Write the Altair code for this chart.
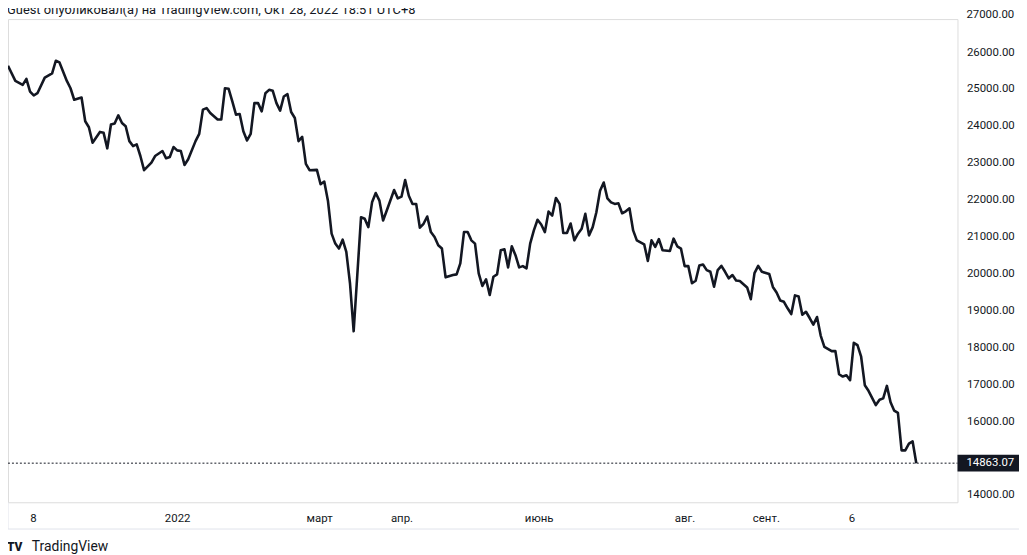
import altair as alt
import pandas as pd

# bar index (trading sessions from late Oct 2021) and closing values
bar_index = [0, 2, 4, 5, 6, 7, 8, 10, 12, 13, 14, 16, 17, 18, 20, 21, 22, 23, 25, 26,
             27, 28, 29, 30, 31, 32, 33, 34, 35, 36, 37, 39, 40, 42, 43, 44, 45, 46, 47, 48,
             49, 51, 52, 53, 54, 55, 57, 58, 59, 60, 61, 62, 63, 64, 65, 66, 67, 68, 69, 70,
             71, 72, 73, 74, 75, 76, 77, 78, 79, 80, 81, 82, 84, 85, 86, 87, 88, 89, 90, 91,
             92, 93, 94, 96, 97, 98, 99, 100, 101, 102, 103, 105, 106, 107, 108, 109, 110, 111, 112, 113,
             114, 115, 116, 117, 118, 119, 121, 122, 123, 124, 125, 126, 127, 128, 129, 130, 131, 132, 133, 134,
             135, 136, 137, 138, 139, 140, 141, 142, 143, 144, 145, 146, 147, 148, 149, 150, 151, 152, 153, 154,
             155, 156, 157, 158, 159, 160, 161, 162, 163, 164, 165, 166, 167, 168, 169, 170, 171, 173, 174, 175,
             176, 177, 178, 180, 181, 182, 183, 184, 185, 186, 187, 188, 189, 190, 191, 192, 193, 194, 195, 196,
             197, 198, 199, 201, 202, 203, 204, 205, 207, 208, 209, 210, 211, 212, 213, 214, 215, 216, 217, 218,
             219, 220, 221, 222, 224, 225, 226, 227, 228, 229, 230, 231, 232, 233, 234, 236, 237, 238, 239, 240,
             241, 242, 243, 244, 245, 246, 247]
close_value = [25631, 25220, 25113, 25274, 24932, 24825, 24887, 25309, 25424, 25766, 25720, 25220, 25021, 24709, 24771, 24126, 23965, 23543, 23838, 23812,
               23392, 24037, 24064, 24287, 24080, 23992, 23588, 23454, 23500, 23185, 22801, 23005, 23185, 23320, 23123, 23158, 23427, 23338, 23320, 22943,
               23097, 23588, 23785, 24441, 24484, 24349, 24172, 24172, 25021, 25005, 24664, 24306, 24322, 23857, 23607, 23785, 24618, 24618, 24395, 24887,
               24978, 24951, 24618, 24414, 24798, 24860, 24376, 24215, 23588, 23704, 22970, 22801, 22810, 22420, 22494, 21976, 21081, 20812, 20677, 20919,
               20586, 19737, 18436, 21527, 21484, 21258, 21930, 22183, 21976, 21438, 21707, 22263, 22037, 22083, 22532, 22110, 21887, 21887, 21242, 21349,
               21546, 21124, 20989, 20766, 20677, 19898, 19960, 19978, 20274, 21124, 21124, 20900, 20812, 20005, 19664, 19844, 19422, 19914, 19978, 20632,
               20659, 20167, 20739, 20497, 20167, 20202, 20140, 20812, 21169, 21457, 21331, 21124, 21680, 21572, 22048, 21887, 21097, 21097, 21357, 20900,
               21081, 21215, 21618, 21035, 21258, 21661, 22244, 22468, 22037, 21930, 21887, 21903, 21634, 21688, 21769, 21169, 20900, 20793, 20344, 20900,
               20720, 20935, 20632, 20613, 20946, 20739, 20677, 20202, 20202, 19737, 19806, 20220, 20247, 20094, 20048, 19645, 20094, 20210, 20048, 19871,
               19960, 19812, 19798, 19624, 19306, 20013, 20210, 20048, 19990, 19637, 19489, 19269, 19234, 19059, 18903, 19409, 19376, 18884, 18965, 18796,
               18616, 18823, 18320, 18016, 17898, 17898, 17272, 17210, 17245, 17110, 18124, 18059, 17747, 16976, 16823, 16438, 16581, 16619, 16957, 16511,
               16285, 16223, 15210, 15210, 15390, 15452, 14863.07]

last_price = [14863.07]
price_ticks = [14000, 16000, 17000, 18000, 19000, 20000, 21000, 22000, 23000, 24000, 25000, 26000]
top_price_tick = [27000]
time_tick_pos = [6.8, 46.0, 84.6, 107.0, 144.3, 184.0, 206.1, 229.4]
time_tick_labels = ["8", "2022", "март", "апр.", "июнь", "авг.", "сент.", "6"]
header_text = "Guest опубликовал(а) на TradingView.com, Окт 28, 2022 18:51 UTC+8"

FONT = "Roboto"
INK = "#131722"
BORDER = "#e0e3eb"
W, H = 957, 487

df = pd.DataFrame({"i": bar_index, "v": close_value})
one = pd.DataFrame({"p": last_price})
top_df = pd.DataFrame({"p": top_price_tick})

x_scale = alt.Scale(domain=[0, 258.2], nice=False, zero=False)
y_scale = alt.Scale(domain=[13804, 26895], nice=False, zero=False)

label_expr = "[" + ",".join("'%s'" % s for s in time_tick_labels) + "][indexof([" + \
    ",".join(str(p) for p in time_tick_pos) + "], datum.value)]"

line = alt.Chart(df).mark_line(color=INK, strokeWidth=2.6, strokeJoin="round", clip=True).encode(
    x=alt.X("i:Q", scale=x_scale, title=None,
            axis=alt.Axis(values=time_tick_pos, labelExpr=label_expr, ticks=False, tickSize=0,
                          domain=False, grid=False, labelPadding=16, labelBaseline="middle",
                          labelFont=FONT, labelFontSize=11.5, labelColor=INK,
                          labelFontWeight={"expr": "datum.label == '2022' ? 'bold' : 'normal'"},
                          labelOverlap=False, labelFlush=False)),
    y=alt.Y("v:Q", scale=y_scale, title=None,
            axis=alt.Axis(orient="right", values=price_ticks, format=".2f", ticks=False, tickSize=0,
                          domain=False, grid=False, labelPadding=9, labelAlign="left",
                          labelBaseline="middle", labelFont=FONT, labelFontSize=11.5,
                          labelColor=INK, labelOverlap=False, labelBound=False, labelFlush=False)),
)

top_label = alt.Chart(top_df).mark_text(align="left", baseline="middle", font=FONT, fontSize=11.5,
                                         color=INK).encode(
    y=alt.Y("p:Q", scale=y_scale), x=alt.value(W + 9), text=alt.Text("p:Q", format=".2f"))

dotted = alt.Chart(one).mark_rule(color=INK, strokeWidth=1, strokeDash=[2, 2]).encode(
    y=alt.Y("p:Q", scale=y_scale), x=alt.value(0), x2=alt.value(W))

price_box = alt.Chart(one).mark_rule(color=INK, strokeWidth=17, strokeCap="butt").encode(
    y=alt.Y("p:Q", scale=y_scale), x=alt.value(W), x2=alt.value(W + 62))

price_text = alt.Chart(one).mark_text(align="left", baseline="middle", font=FONT, fontSize=11.5,
                                      color="white").encode(
    y=alt.Y("p:Q", scale=y_scale), x=alt.value(W + 9), text=alt.Text("p:Q", format=".2f"))

base = alt.Chart(pd.DataFrame({"a": [0]}))
axis_bottom_line = base.mark_rule(color=BORDER, strokeWidth=1).encode(
    x=alt.value(-1), x2=alt.value(W + 62), y=alt.value(H + 27))
axis_left_line = base.mark_rule(color=BORDER, strokeWidth=1).encode(
    x=alt.value(0), y=alt.value(H), y2=alt.value(H + 27))

header = base.mark_text(text=header_text, align="left", baseline="alphabetic", font=FONT,
                        fontSize=13, color=INK).encode(x=alt.value(-1), y=alt.value(-5))

logo_icon = base.mark_text(text="TV", align="left", baseline="middle", font=FONT, fontSize=12,
                           fontWeight=900, color=INK).encode(x=alt.value(-1), y=alt.value(H + 45))
logo_text = base.mark_text(text="TradingView", align="left", baseline="middle", font=FONT,
                           fontSize=14, color=INK).encode(x=alt.value(24), y=alt.value(H + 45))

chart = alt.layer(line, top_label, dotted, price_box, price_text, axis_bottom_line, axis_left_line,
                  header, logo_icon, logo_text).properties(
    width=W, height=H,
    autosize=alt.AutoSizeParams(type="none"),
    padding={"left": 0, "top": 9, "right": 62, "bottom": 51},
).configure_view(stroke=BORDER, strokeWidth=1).configure(background="white")

chart.save("out.html", embed_options={"renderer": "svg", "actions": False})
